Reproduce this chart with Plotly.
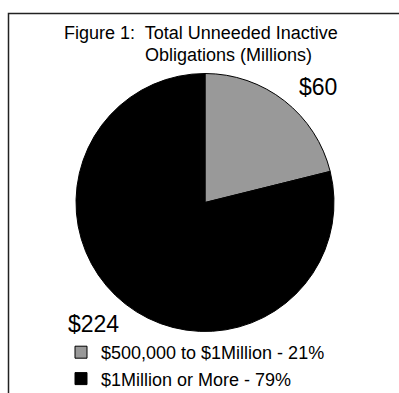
import plotly.graph_objects as go

categories = ["$500,000 to $1Million", "$1Million or More"]
values = [60, 224]
percents = [21, 79]
colors = ["#999999", "#000000"]
title_lines = ["Figure 1:  Total Unneeded Inactive", "Obligations (Millions)"]

W, H = 399, 393
legend_labels = [f"{c} - {p}%" for c, p in zip(categories, percents)]

cx, cy, r = 205, 190.5, 129  # cy measured from bottom

fig = go.Figure()
fig.add_trace(go.Pie(
    labels=legend_labels,
    values=values,
    sort=False,
    direction="clockwise",
    rotation=0,
    marker=dict(colors=colors, line=dict(color="#000000", width=1)),
    textinfo="none",
    hoverinfo="label+value",
    domain=dict(x=[(cx - r) / W, (cx + r) / W], y=[(cy - r) / H, (cy + r) / H]),
))

font = "Liberation Sans, Arial, sans-serif"


def ann(text, x, y, size):
    return dict(text=text, x=x / W, y=1 - y / H, xref="paper", yref="paper",
                xanchor="center", yanchor="middle", showarrow=False,
                font=dict(family=font, size=size, color="#000"))


annotations = [
    ann(title_lines[0], 201, 32.5, 18),
    ann(title_lines[1], 228, 55.5, 18),
    ann(f"${values[0]}", 318, 86.5, 23),
    ann(f"${values[1]}", 93, 323.5, 23),
]

fig.update_layout(
    width=W, height=H,
    margin=dict(l=0, r=0, t=0, b=0, autoexpand=False),
    paper_bgcolor="#ffffff",
    plot_bgcolor="#ffffff",
    showlegend=True,
    legend=dict(x=61 / W, y=1 - 334 / H, xanchor="left", yanchor="top",
                bgcolor="rgba(0,0,0,0)",
                font=dict(family=font, size=18, color="#000"),
                tracegroupgap=0, itemwidth=30),
    annotations=annotations,
    shapes=[dict(type="rect", xref="paper", yref="paper",
                 x0=8.5 / W, x1=1.05, y0=-0.05, y1=1 - 13.5 / H,
                 line=dict(color="#222222", width=1.5), fillcolor="rgba(0,0,0,0)")],
)

fig.write_html("out.html")
